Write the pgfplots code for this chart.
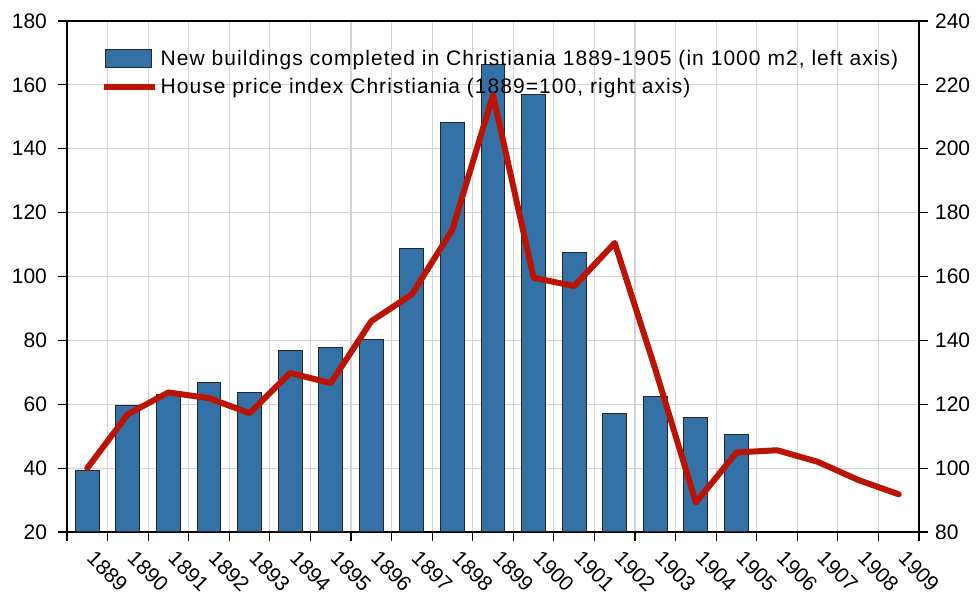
\documentclass[border=0pt]{standalone}
\usepackage{fontspec}
\setmainfont{Liberation Sans}
\usepackage{pgfplots}
\usepackage{pgfplotstable}
\pgfplotsset{compat=1.18}
\definecolor{barblue}{RGB}{52,113,166}
\definecolor{linered}{RGB}{187,20,5}
\definecolor{gridgray}{RGB}{212,212,212}

% new buildings (1000 m2), 1889-1905
\pgfplotstableread{
x year build
0 1889 39.1
1 1890 59.7
2 1891 63.0
3 1892 66.8
4 1893 63.6
5 1894 76.7
6 1895 77.8
7 1896 80.4
8 1897 108.9
9 1898 148.2
10 1899 166.5
11 1900 156.9
12 1901 107.5
13 1902 57.2
14 1903 62.5
15 1904 55.7
16 1905 50.6
}\buildtab

% house price index (1889=100), 1889-1909
\pgfplotstableread{
x year price
0 1889 100.0
1 1890 116.9
2 1891 123.7
3 1892 121.9
4 1893 117.2
5 1894 129.8
6 1895 126.6
7 1896 146.0
8 1897 154.4
9 1898 174.7
10 1899 216.8
11 1900 159.6
12 1901 157.0
13 1902 170.5
14 1903 131.0
15 1904 89.2
16 1905 104.9
17 1906 105.6
18 1907 102.0
19 1908 96.3
20 1909 91.8
}\pricetab

\pgfplotsset{
  base/.style={
    width=426pt, height=255.5pt, scale only axis,
    xmin=-0.5, xmax=20.5,
    tick align=outside,
    major tick length=4.5pt, minor tick length=4.5pt,
    every tick/.style={black, line width=0.6pt},
    axis line style={black, line width=0.9pt},
    ticklabel style={font=\fontsize{10.5}{12}\selectfont},
    /pgf/number format/assume math mode=true,
    /pgf/number format/1000 sep={},
  },
}

\begin{document}
\begin{tikzpicture}
\begin{axis}[base, name=ax,
  ymin=20, ymax=180, ytick={20,40,...,180},
  ytick pos=left, xtick pos=lower,
  xtick={0,...,20},
  xticklabels={1889,1890,1891,1892,1893,1894,1895,1896,1897,1898,1899,1900,1901,1902,1903,1904,1905,1906,1907,1908,1909},
  major x tick style={draw=none},
  minor xtick={-0.5,0.5,1.5,2.5,3.5,4.5,5.5,6.5,7.5,8.5,9.5,10.5,11.5,12.5,13.5,14.5,15.5,16.5,17.5,18.5,19.5,20.5},
  xminorgrids=true, ymajorgrids=true,
  grid style={gridgray, line width=0.6pt},
  minor grid style={gridgray, line width=0.6pt},
  xticklabel style={xshift=4.5pt, yshift=-4pt, rotate=-45, anchor=north west, inner sep=0pt},
  yticklabel style={xshift=-2pt},
  legend cell align=left,
  legend style={at={(0.032,0.960)}, anchor=north west, draw=none, fill=none,
    font=\fontsize{10.5}{12}\selectfont\addfontfeatures{LetterSpace=5}, row sep=1pt,
    nodes={inner xsep=1.5pt}},
]
\addplot[ybar, bar width=0.59, fill=barblue, draw=black!85, line width=0.5pt,
  legend image code/.code={\draw[fill=barblue, draw=black!85, line width=0.5pt] (0pt,-4.5pt) rectangle (23pt,4.5pt);}]
  table[x=x, y=build] {\buildtab};
\addlegendentry{New buildings completed in Christiania 1889-1905 (in 1000 m2, left axis)}
\addlegendimage{legend image code/.code={\draw[linered, line width=3pt] (-1pt,0pt) -- (24.5pt,0pt);}}
\addlegendentry{House price index Christiania (1889=100, right axis)}
\end{axis}
\begin{axis}[base,
  ymin=80, ymax=240, ytick={80,100,...,240},
  axis x line=none, axis y line*=right,
  yticklabel style={xshift=0pt},
]
\addplot[linered, line width=3pt, line join=round, line cap=round]
  table[x=x, y=price] {\pricetab};
\end{axis}
\pgfresetboundingbox
\useasboundingbox ([shift={(-33.5pt,-32.5pt)}]ax.south west) rectangle ([shift={(29pt,10.5pt)}]ax.north east);
\end{tikzpicture}
\end{document}
